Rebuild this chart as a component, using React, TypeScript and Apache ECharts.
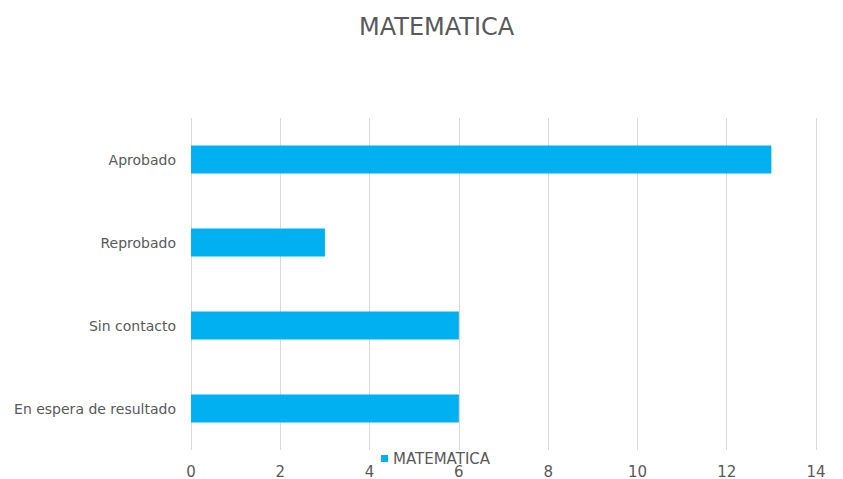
import React, { useEffect, useRef } from "react";
import * as echarts from "echarts";

const categories = ["Aprobado", "Reprobado", "Sin contacto", "En espera de resultado"];
const values = [13, 3, 6, 6];
const seriesName = "MATEMATICA";
const titleText = "MATEMATICA";

const FONT = "DejaVu Sans";

export default function App() {
  const ref = useRef<HTMLDivElement>(null);
  useEffect(() => {
    const chart = echarts.init(ref.current!, null, { renderer: "svg" });
    chart.setOption({
      animation: false,
      backgroundColor: "#ffffff",
      title: {
        text: titleText,
        left: 354,
        top: 10,
        textStyle: { color: "#595959", fontSize: 24, fontWeight: "normal", fontFamily: FONT },
      },
      legend: {
        data: [seriesName],
        left: 376,
        top: 446,
        icon: "rect",
        itemWidth: 7,
        itemHeight: 7,
        itemGap: 4,
        textStyle: { color: "#595959", fontSize: 15, fontFamily: FONT },
      },
      grid: { left: 191, right: 27, top: 118, bottom: 29, containLabel: false },
      xAxis: {
        type: "value",
        min: 0,
        max: 14,
        interval: 2,
        axisLine: { show: false },
        axisTick: { show: false },
        axisLabel: { color: "#595959", fontSize: 15, margin: 14, fontFamily: FONT },
        splitLine: { lineStyle: { color: "#d9d9d9", width: 1 } },
      },
      yAxis: {
        type: "category",
        data: categories,
        inverse: true,
        axisLine: { show: false },
        axisTick: { show: false },
        axisLabel: { color: "#595959", fontSize: 14, margin: 15, fontFamily: FONT },
      },
      series: [
        {
          name: seriesName,
          type: "bar",
          data: values,
          barWidth: 28,
          itemStyle: { color: "#00b0f0" },
        },
      ],
    });
    return () => chart.dispose();
  }, []);
  return <div ref={ref} style={{ position: "fixed", left: 0, top: 0, width: 843, height: 479 }} />;
}
